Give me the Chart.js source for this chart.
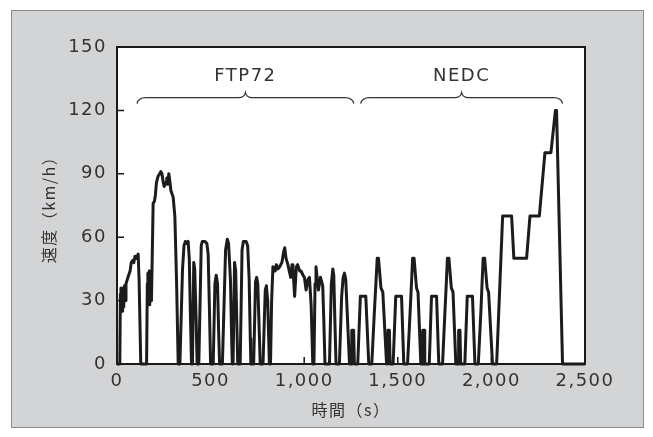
<!DOCTYPE html>
<html><head><meta charset="utf-8">
<script src="https://cdn.jsdelivr.net/npm/chart.js@4/dist/chart.umd.min.js"></script>
<style>
html,body{margin:0;padding:0;background:#fff;width:653px;height:437px;overflow:hidden}
#frame{position:absolute;left:11px;top:10px;width:631px;height:416px;background:#d3d4d6;border:1px solid #8c8c8c}
#wrap{position:absolute;left:0;top:0;width:653px;height:437px}
</style></head><body>
<div id="frame"></div>
<div id="wrap"><canvas id="c" width="653" height="437"></canvas></div>
<script>
// ---- data ----
const timeS = [
  0,15,18,21,24,27,30,33,36,40,44,48,55,62,70,76,84,90,96,104,113,118,127,
  158,162,165,168,172,175,179,184,190,193,200,205,211,220,228,234,240,247,252,256,262,266,270,277,283,288,300,309,318,327,
  336,350,358,365,372,380,386,393,398,403,410,415,423,428,437,450,456,470,480,487,494,500,
  514,523,530,537,543,548,563,580,589,596,606,613,616,620,628,634,640,645,
  658,668,675,690,698,706,712,715,730,740,746,752,760,765,780,792,798,805,811,814,
  820,826,833,845,851,860,869,881,890,896,903,913,920,928,935,940,949,958,965,976,983,994,1001,1010,1020,1028,1037,1046,
  1052,1058,1063,1070,1076,1087,1093,1099,1105,1111,1135,1145,1153,1158,1164,1170,1188,1200,1208,1215,1222,1232,1242,
  1250,1254,1264,1268,1286,1300,1329,1345,1361,1375,1383,1390,1397,1410,1420,1440,
  1445,1448,1455,1459,1475,1489,1520,1532,1552,1566,1573,1579,1587,1600,1608,1623,
  1630,1633,1640,1644,1668,1680,1707,1719,1739,1752,1759,1765,1773,1786,1795,1810,
  1822,1825,1832,1836,1858,1871,1899,1912,1930,1944,1950,1956,1964,1977,1985,2006,
  2028,2060,2108,2120,2188,2206,2256,2286,2318,2342,2348,2380,2500
];
const speedKmh = [
  0,0,33,36,26,35,25,36,27,37,30,38,40,42,44,48,49,48,51,50,52,40,0,
  0,38,43,30,44,28,40,30,60,76,77,80,86,89,90,91,90,86,84,84,86,88,85,90,86,82,79,70,40,0,
  0,45,56,58,57,58,50,20,0,0,48,45,20,0,0,56,58,58,57,52,25,0,
  0,38,42,38,15,0,0,54,59,57,40,10,0,0,48,44,20,0,
  0,54,58,58,56,40,12,0,0,39,41,38,15,0,0,35,37,30,10,0,
  0,30,46,44,47,45,46,48,53,55,50,47,44,41,47,45,32,46,47,44,44,42,41,35,40,41,28,0,
  0,38,46,40,35,41,39,37,20,0,0,38,45,42,20,0,0,32,41,43,40,20,0,
  0,16,16,0,0,32,32,0,0,25,38,50,50,36,34,0,
  0,16,16,0,0,32,32,0,0,25,38,50,50,36,34,0,
  0,16,16,0,0,32,32,0,0,25,38,50,50,36,34,0,
  0,16,16,0,0,32,32,0,0,25,38,50,50,36,34,0,
  0,70,70,50,50,70,70,100,100,120,120,0,0
];
const xTicks = [0,500,1000,1500,2000,2500];
const xTickLabels = ['0','500','1,000','1,500','2,000','2,500'];
const yTicks = [0,30,60,90,120,150];
const yTickLabels = ['0','30','60','90','120','150'];
const braceLabels = ['FTP72','NEDC'];
const braceFrom = [107,1302];
const braceTo = [1265,2380];
const braceMid = [686,1841];
const braceLevel = 126;
const labelLevel = 136.3;

Chart.defaults.font.family = "'DejaVu Sans', sans-serif";
Chart.defaults.color = '#333';

const decor = {
  id:'decor',
  beforeDraw(chart){
    const {ctx, chartArea:a} = chart;
    ctx.save();
    ctx.fillStyle = '#fff';
    ctx.fillRect(a.left, a.top, a.right-a.left, a.bottom-a.top);
    ctx.restore();
    ctx.letterSpacing = '1.5px';
  },
  afterDatasetsDraw(chart){
    const {ctx, chartArea:a, scales:{x, y}} = chart;
    ctx.save();
    ctx.letterSpacing = '0px';
    ctx.strokeStyle = '#1a1a1a';
    ctx.lineWidth = 1.5;
    ctx.beginPath();
    xTicks.forEach(v => { if (v>0 && v<2500){ const px = x.getPixelForValue(v); ctx.moveTo(px, a.bottom); ctx.lineTo(px, a.bottom-7);} });
    yTicks.forEach(v => { if (v>0 && v<150){ const py = y.getPixelForValue(v); ctx.moveTo(a.left, py); ctx.lineTo(a.left+7, py);} });
    ctx.stroke();
    ctx.lineWidth = 2;
    ctx.strokeRect(a.left, a.top, a.right-a.left, a.bottom-a.top);
    // braces
    ctx.strokeStyle = '#333';
    ctx.lineWidth = 1.2;
    const by = y.getPixelForValue(braceLevel);
    const ly = y.getPixelForValue(labelLevel);
    ctx.fillStyle = '#333';
    ctx.font = "18px 'DejaVu Sans'";
    ctx.textAlign = 'center';
    ctx.textBaseline = 'middle';
    ctx.letterSpacing = '1.5px';
    braceLabels.forEach((lab,i) => {
      const x0 = x.getPixelForValue(braceFrom[i]);
      const x1 = x.getPixelForValue(braceTo[i]);
      const xm = x.getPixelForValue(braceMid[i]);
      ctx.beginPath();
      ctx.moveTo(x0, by+6);
      ctx.quadraticCurveTo(x0+1, by, x0+9, by);
      ctx.lineTo(xm-7, by);
      ctx.quadraticCurveTo(xm-1, by, xm, by-5);
      ctx.quadraticCurveTo(xm+1, by, xm+7, by);
      ctx.lineTo(x1-9, by);
      ctx.quadraticCurveTo(x1-1, by, x1, by+6);
      ctx.stroke();
      ctx.fillText(lab, xm, ly);
    });
    ctx.restore();
  }
};

new Chart(document.getElementById('c'), {
  type:'line',
  data:{ datasets:[{
    data: timeS.map((t,i)=>({x:t, y:speedKmh[i]})),
    borderColor:'#1c1c1c', borderWidth:3, pointRadius:0, tension:0, fill:false, clip:4,
    borderJoinStyle:'round'
  }]},
  options:{
    responsive:false, animation:false,
    layout:{ padding:{ left:0, top:47, right:68, bottom:0 } },
    plugins:{ legend:{display:false}, tooltip:{enabled:false} },
    scales:{
      x:{ type:'linear', min:0, max:2500,
        afterBuildTicks:s=>{ s.ticks = xTicks.map(v=>({value:v})); },
        afterFit:s=>{ s.height = 73; },
        grid:{ display:false, drawTicks:false }, border:{ display:false },
        ticks:{ padding:7, font:{size:18}, color:'#333', maxRotation:0, autoSkip:false,
          callback:v=>xTickLabels[xTicks.indexOf(v)] },
        title:{ display:true, text:'時間（s）', color:'#333',
          font:{ family:"'Noto Sans CJK JP'", size:16 }, padding:{ top:0, bottom:17 } }
      },
      y:{ type:'linear', min:0, max:150,
        afterBuildTicks:s=>{ s.ticks = yTicks.map(v=>({value:v})); },
        afterFit:s=>{ s.width = 117; },
        grid:{ display:false, drawTicks:false }, border:{ display:false },
        ticks:{ padding:10, font:{size:18}, color:'#333', autoSkip:false,
          callback:v=>yTickLabels[yTicks.indexOf(v)] },
        title:{ display:true, text:'速度（km/h）', color:'#333',
          font:{ family:"'Noto Sans CJK JP'", size:16 }, padding:{ top:39, bottom:0 } }
      }
    }
  },
  plugins:[decor]
});
</script>
</body></html>
